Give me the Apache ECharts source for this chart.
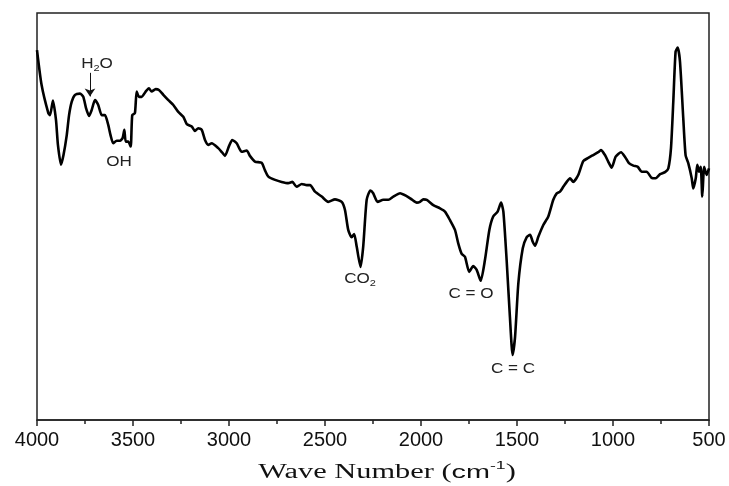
<!DOCTYPE html>
<html>
<head>
<meta charset="utf-8">
<script src="https://cdn.jsdelivr.net/npm/echarts@6/dist/echarts.min.js"></script>
<style>
  html, body { margin: 0; padding: 0; background: #fff; }
  #chart { width: 729px; height: 486px; }
</style>
</head>
<body>
<div id="chart"></div>
<script>
// wave number (cm-1)
var wavenumber = [
  4000, 3976, 3941, 3932, 3917, 3901, 3891, 3875, 3862, 3845,
  3833, 3819, 3802, 3776, 3759, 3745, 3729, 3715, 3698, 3681,
  3663, 3646, 3629, 3617, 3603, 3585, 3568, 3554, 3545, 3538,
  3525, 3512, 3504, 3490, 3481, 3469, 3455, 3434, 3417, 3403,
  3382, 3365, 3342, 3316, 3290, 3264, 3238, 3220, 3194, 3177,
  3160, 3142, 3125, 3108, 3090, 3056, 3037, 3021, 3000, 2983,
  2960, 2934, 2908, 2891, 2865, 2830, 2813, 2795, 2760, 2726,
  2691, 2670, 2648, 2621, 2595, 2578, 2552, 2517, 2483, 2448,
  2413, 2396, 2379, 2361, 2348, 2335, 2315, 2301, 2283, 2264,
  2249, 2226, 2196, 2170, 2144, 2109, 2075, 2049, 2022, 2005,
  1988, 1970, 1936, 1901, 1875, 1849, 1823, 1806, 1788, 1771,
  1749, 1728, 1710, 1689, 1667, 1644, 1624, 1601, 1583, 1571,
  1554, 1537, 1523, 1510, 1493, 1470, 1450, 1432, 1418, 1406,
  1389, 1363, 1337, 1311, 1293, 1276, 1259, 1241, 1224, 1207,
  1181, 1155, 1129, 1103, 1077, 1063, 1042, 1025, 1007, 986,
  958, 938, 917, 894, 871, 851, 825, 799, 778, 755,
  729, 712, 698, 686, 674, 663, 651, 634, 622, 608,
  590, 582, 569, 561, 552, 543, 535, 525, 512, 500
];
// transmittance (arbitrary %, axis not labelled)
var transmittance = [
  90.9, 82.3, 75.4, 74.9, 78.5, 73.7, 67.6, 62.7, 65.1, 70.0,
  74.9, 78.2, 79.9, 80.2, 79.4, 76.7, 74.7, 76.2, 78.6, 77.4,
  74.9, 74.9, 72.5, 70.0, 68.0, 68.6, 68.6, 69.3, 71.3, 68.4,
  68.4, 67.2, 74.9, 75.4, 80.7, 79.4, 79.4, 80.7, 81.5, 80.7,
  81.3, 81.1, 79.9, 78.6, 77.4, 75.7, 74.5, 72.7, 72.1, 71.0,
  71.7, 71.3, 68.8, 67.6, 68.0, 66.8, 65.8, 64.9, 67.3, 68.8,
  68.0, 65.9, 66.2, 64.9, 63.5, 63.2, 61.4, 59.8, 59.0, 58.5,
  58.2, 58.5, 57.3, 58.0, 57.7, 57.7, 56.1, 54.9, 53.6, 54.2,
  53.6, 51.6, 46.7, 44.9, 45.7, 42.6, 37.6, 42.6, 54.1, 56.4,
  55.7, 53.6, 54.1, 54.1, 54.9, 55.7, 55.0, 54.2, 53.4, 53.6,
  54.2, 54.1, 52.8, 52.0, 51.2, 49.1, 46.7, 43.4, 40.8, 40.1,
  36.4, 37.8, 36.9, 34.2, 39.3, 46.7, 50.0, 51.2, 53.4, 51.2,
  39.3, 25.4, 16.0, 20.5, 33.6, 42.2, 44.9, 45.5, 43.8, 42.8,
  45.0, 47.9, 50.0, 54.1, 55.7, 56.1, 57.3, 58.5, 59.4, 58.5,
  60.2, 63.6, 64.4, 65.1, 65.8, 66.3, 65.1, 63.5, 62.0, 64.7,
  65.8, 64.7, 63.1, 62.5, 62.2, 61.0, 61.0, 59.5, 59.4, 60.4,
  60.9, 61.8, 66.8, 78.2, 90.5, 91.5, 88.0, 74.1, 65.1, 63.1,
  59.4, 56.9, 59.4, 62.7, 61.0, 62.2, 54.9, 62.2, 60.2, 61.8
];
// band labels: [text, x px, y px]
var bandLabels = [
  ["H{sub|2}O", 97, 64],
  ["OH", 119, 162],
  ["CO{sub|2}", 360, 279],
  ["C = O", 471, 294],
  ["C = C", 513, 369]
];
// arrow pointing at the water band
var h2oArrow = [[3724, 85.3], [3724, 79.5]];

var seriesData = [];
for (var i = 0; i < wavenumber.length; i++) {
  seriesData.push([wavenumber[i], transmittance[i]]);
}

var labelRich = {
  sub: { fontSize: 9, lineHeight: 9, verticalAlign: "bottom", fontFamily: "Liberation Sans", fill: "#222" }
};

var graphics = [];
for (var j = 0; j < bandLabels.length; j++) {
  graphics.push({
    type: "text",
    x: bandLabels[j][1],
    y: bandLabels[j][2],
    scaleX: 1.22,
    style: {
      text: bandLabels[j][0],
      fontFamily: "Liberation Sans",
      fontSize: 14,
      lineHeight: 18,
      fill: "#222",
      align: "center",
      verticalAlign: "middle",
      rich: labelRich
    }
  });
}
// axis title
graphics.push({
  type: "text",
  x: 387,
  y: 473,
  scaleX: 1.6,
  scaleY: 1.05,
  style: {
    text: "{s|Wave Number (}{c|cm}{sup|-1}{s|)}",
    align: "center",
    verticalAlign: "middle",
    fill: "#111",
    rich: {
      s: { fontFamily: "Liberation Serif", fontSize: 19, lineHeight: 24, fill: "#111" },
      c: { fontFamily: "Liberation Sans", fontSize: 18, lineHeight: 24, fill: "#111" },
      sup: { fontFamily: "Liberation Sans", fontSize: 11, lineHeight: 11, verticalAlign: "top", fill: "#111" }
    }
  }
});

var chart = echarts.init(document.getElementById("chart"));
var option = {
  backgroundColor: "#fff",
  animation: false,
  grid: {
    left: 37,
    right: 20,
    top: 13,
    bottom: 66,
    show: true,
    borderColor: "#222",
    borderWidth: 1.5
  },
  xAxis: {
    type: "value",
    inverse: true,
    min: 500,
    max: 4000,
    interval: 500,
    axisLine: { show: true, lineStyle: { color: "#222", width: 1.5 } },
    axisTick: { show: true, length: 6, lineStyle: { color: "#222", width: 1.5 } },
    minorTick: { show: true, splitNumber: 2, length: 4, lineStyle: { color: "#222", width: 1.5 } },
    splitLine: { show: false },
    axisLabel: {
      margin: 10,
      color: "#111",
      fontFamily: "Liberation Sans",
      fontSize: 20,
      formatter: function (v) { return String(v); }
    }
  },
  yAxis: {
    type: "value",
    min: 0,
    max: 100,
    show: false
  },
  series: [{
    type: "line",
    data: seriesData,
    showSymbol: false,
    smooth: 0.2,
    lineStyle: { color: "#000", width: 2.6 },
    markLine: {
      silent: true,
      symbol: ["none", "arrow"],
      symbolSize: 8,
      label: { show: false },
      lineStyle: { color: "#111", width: 1, type: "solid" },
      data: [[{ coord: h2oArrow[0] }, { coord: h2oArrow[1] }]]
    }
  }],
  graphic: graphics
};
chart.setOption(option);
</script>
</body>
</html>
